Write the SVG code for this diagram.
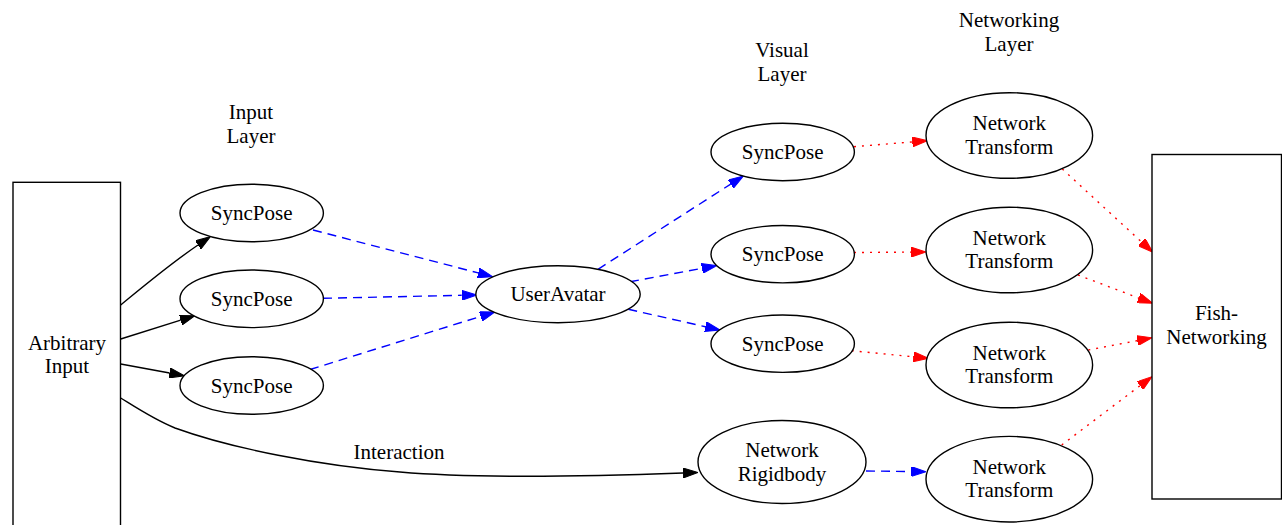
<svg xmlns="http://www.w3.org/2000/svg" width="1282" height="525" viewBox="0 0 1282 525">
<defs>
<marker id="ak" viewBox="0 0 15 10" refX="0" refY="5" markerUnits="userSpaceOnUse" markerWidth="15" markerHeight="10" orient="auto"><path d="M0,0 L15,5 L0,10 z" fill="#000" stroke="#000" stroke-width="1" stroke-dasharray="none"/></marker>
<marker id="ab" viewBox="0 0 15 10" refX="0" refY="5" markerUnits="userSpaceOnUse" markerWidth="15" markerHeight="10" orient="auto"><path d="M0,0 L15,5 L0,10 z" fill="#0000ff" stroke="#0000ff" stroke-width="1" stroke-dasharray="none"/></marker>
<marker id="ar" viewBox="0 0 15 10" refX="0" refY="5" markerUnits="userSpaceOnUse" markerWidth="15" markerHeight="10" orient="auto"><path d="M0,0 L15,5 L0,10 z" fill="#ff0000" stroke="#ff0000" stroke-width="1" stroke-dasharray="none"/></marker>
</defs>
<rect width="1282" height="525" fill="#fff"/>
<g id="connectors" fill="none" stroke-width="1.4">
<g stroke="#000">
<path marker-end="url(#ak)" d="M120.7,305 C145,285 170,264 198,245"/>
<path marker-end="url(#ak)" d="M120.7,339 L180.7,320.2"/>
<path marker-end="url(#ak)" d="M120.7,364 L169.6,373"/>
<path marker-end="url(#ak)" d="M120.7,398 C140,410 155,420 175,428 C230,448 320,466 400,472 C480,479 600,476 683,473"/>
</g>
<g stroke="#0000ff" stroke-dasharray="9,6">
<path marker-end="url(#ab)" d="M313,230 L478.2,272.9"/>
<path marker-end="url(#ab)" d="M323,298.3 L461.7,295.3"/>
<path marker-end="url(#ab)" d="M310,369.5 L480.7,316.4"/>
<path marker-end="url(#ab)" d="M598,269.3 L730.7,184.1"/>
<path marker-end="url(#ab)" d="M630,281.7 L702,268.4"/>
<path marker-end="url(#ab)" d="M628.3,309.3 L705.4,326.7"/>
<path marker-end="url(#ab)" d="M866,471 L911,471.5"/>
</g>
<g stroke="#ff0000" stroke-dasharray="2,6">
<path marker-end="url(#ar)" d="M854,146.7 L912.3,141.9"/>
<path marker-end="url(#ar)" d="M854,252.5 L911,252.1"/>
<path marker-end="url(#ar)" d="M851.7,350.7 L913.4,356.8"/>
<path marker-end="url(#ar)" d="M1062.3,169 L1141.7,242.1"/>
<path marker-end="url(#ar)" d="M1078,275 L1138.7,298"/>
<path marker-end="url(#ar)" d="M1088.3,350 L1137.3,340.6"/>
<path marker-end="url(#ar)" d="M1061.7,445 L1140,385.7"/>
</g>
</g>
<g text-anchor="middle" fill="#000">
<g id="labels">
<text style="font-family:'Liberation Serif';font-size:21px" x="251" y="119">Input</text><text style="font-family:'Liberation Serif';font-size:21px" x="251" y="143">Layer</text>
<text style="font-family:'Liberation Serif';font-size:21px" x="782" y="57">Visual</text><text style="font-family:'Liberation Serif';font-size:21px" x="782" y="81">Layer</text>
<text style="font-family:'Liberation Serif';font-size:21px" x="1009" y="27">Networking</text><text style="font-family:'Liberation Serif';font-size:21px" x="1009" y="51">Layer</text>
<text style="font-family:'Liberation Serif';font-size:21px" x="399" y="459">Interaction</text>
</g>
<g id="arbitrary_input"><rect fill="#fff" stroke="#000" stroke-width="1.4" x="13" y="182.3" width="107.5" height="350"/><text style="font-family:'Liberation Serif';font-size:21px" x="67" y="350">Arbitrary</text><text style="font-family:'Liberation Serif';font-size:21px" x="67" y="373">Input</text></g>
<g id="fish_networking"><rect fill="#fff" stroke="#000" stroke-width="1.4" x="1152" y="154.5" width="129.5" height="344.5"/><text style="font-family:'Liberation Serif';font-size:21px" x="1216.5" y="320">Fish-</text><text style="font-family:'Liberation Serif';font-size:21px" x="1216.5" y="343.5">Networking</text></g>
<g id="input_syncpose1"><ellipse fill="#fff" stroke="#000" stroke-width="1.4" cx="251.7" cy="213" rx="71.7" ry="28.8"/><text style="font-family:'Liberation Serif';font-size:21px" x="251.7" y="220">SyncPose</text></g>
<g id="input_syncpose2"><ellipse fill="#fff" stroke="#000" stroke-width="1.4" cx="251.7" cy="298.8" rx="71.7" ry="28.8"/><text style="font-family:'Liberation Serif';font-size:21px" x="251.7" y="305.8">SyncPose</text></g>
<g id="input_syncpose3"><ellipse fill="#fff" stroke="#000" stroke-width="1.4" cx="251.7" cy="385.5" rx="71.7" ry="28.8"/><text style="font-family:'Liberation Serif';font-size:21px" x="251.7" y="392.5">SyncPose</text></g>
<g id="useravatar"><ellipse fill="#fff" stroke="#000" stroke-width="1.4" cx="558" cy="294.2" rx="82.2" ry="28.5"/><text style="font-family:'Liberation Serif';font-size:21px" x="558" y="301.2">UserAvatar</text></g>
<g id="visual_syncpose1"><ellipse fill="#fff" stroke="#000" stroke-width="1.4" cx="782.7" cy="152" rx="71.7" ry="28.7"/><text style="font-family:'Liberation Serif';font-size:21px" x="782.7" y="159">SyncPose</text></g>
<g id="visual_syncpose2"><ellipse fill="#fff" stroke="#000" stroke-width="1.4" cx="782.7" cy="254.2" rx="71.7" ry="28.7"/><text style="font-family:'Liberation Serif';font-size:21px" x="782.7" y="261.2">SyncPose</text></g>
<g id="visual_syncpose3"><ellipse fill="#fff" stroke="#000" stroke-width="1.4" cx="782.7" cy="343.7" rx="71.7" ry="28.7"/><text style="font-family:'Liberation Serif';font-size:21px" x="782.7" y="350.7">SyncPose</text></g>
<g id="network_rigidbody"><ellipse fill="#fff" stroke="#000" stroke-width="1.4" cx="782" cy="462" rx="84" ry="41.5"/><text style="font-family:'Liberation Serif';font-size:21px" x="782" y="457">Network</text><text style="font-family:'Liberation Serif';font-size:21px" x="782" y="480.5">Rigidbody</text></g>
<g id="network_transform1"><ellipse fill="#fff" stroke="#000" stroke-width="1.4" cx="1009.3" cy="135.5" rx="83.3" ry="42.8"/><text style="font-family:'Liberation Serif';font-size:21px" x="1009.3" y="130">Network</text><text style="font-family:'Liberation Serif';font-size:21px" x="1009.3" y="153.5">Transform</text></g>
<g id="network_transform2"><ellipse fill="#fff" stroke="#000" stroke-width="1.4" cx="1009.3" cy="250" rx="83.3" ry="42.8"/><text style="font-family:'Liberation Serif';font-size:21px" x="1009.3" y="244.5">Network</text><text style="font-family:'Liberation Serif';font-size:21px" x="1009.3" y="268">Transform</text></g>
<g id="network_transform3"><ellipse fill="#fff" stroke="#000" stroke-width="1.4" cx="1009.3" cy="365" rx="83.3" ry="42.8"/><text style="font-family:'Liberation Serif';font-size:21px" x="1009.3" y="359.5">Network</text><text style="font-family:'Liberation Serif';font-size:21px" x="1009.3" y="383">Transform</text></g>
<g id="network_transform4"><ellipse fill="#fff" stroke="#000" stroke-width="1.4" cx="1009.3" cy="479.2" rx="83.3" ry="42.8"/><text style="font-family:'Liberation Serif';font-size:21px" x="1009.3" y="473.7">Network</text><text style="font-family:'Liberation Serif';font-size:21px" x="1009.3" y="497.2">Transform</text></g>
</g>
</svg>
